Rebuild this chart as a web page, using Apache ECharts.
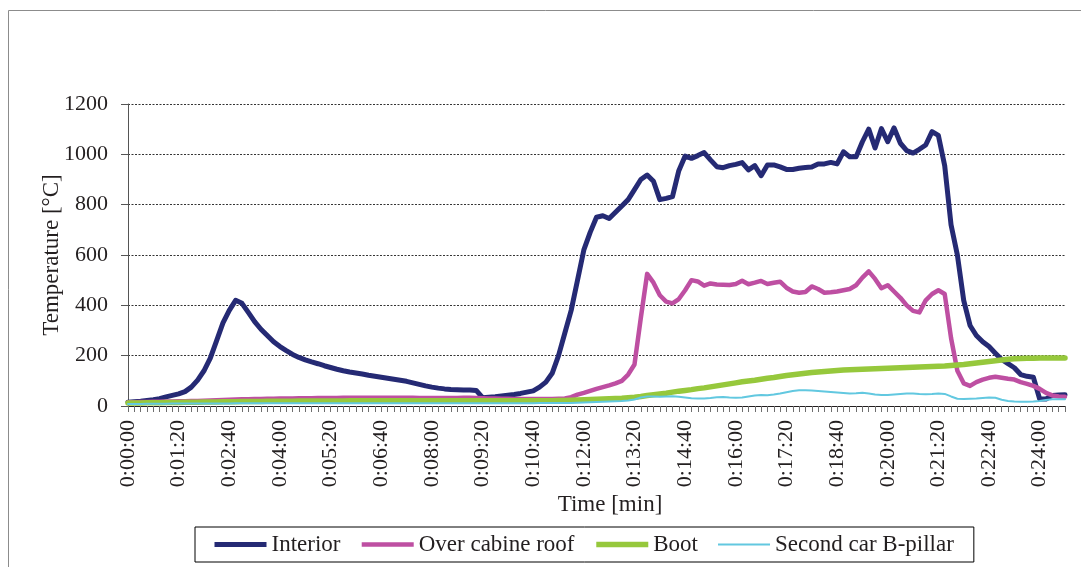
<!DOCTYPE html>
<html>
<head>
<meta charset="utf-8">
<script src="https://cdn.jsdelivr.net/npm/echarts@6/dist/echarts.min.js"></script>
<style>
  html, body { margin: 0; padding: 0; background: #ffffff; }
  #chart { width: 1081px; height: 567px; }
</style>
</head>
<body>
<div id="chart"></div>
<script>
// Sampling step of the logger: one reading every 10 s, 149 readings (0:00:00 .. 0:24:40)
const stepSeconds = 10;
const sampleCount = 149;

function hms(totalSec) {
  const h = Math.floor(totalSec / 3600);
  const m = Math.floor((totalSec % 3600) / 60);
  const s = totalSec % 60;
  return h + ':' + String(m).padStart(2, '0') + ':' + String(s).padStart(2, '0');
}
const timeLabels = Array.from({ length: sampleCount }, (_, i) => hms(i * stepSeconds));

const seriesNames = ['Interior', 'Over cabine roof', 'Boot', 'Second car B-pillar'];

// Temperatures in °C
const interior = [
  15, 17, 19, 22, 25, 29, 36, 42, 48, 57,
  75, 103, 140, 190, 260, 330, 380, 420, 408, 372,
  335, 305, 280, 255, 236, 220, 205, 193, 183, 175,
  168, 160, 153, 146, 140, 135, 131, 127, 122, 118,
  114, 110, 106, 102, 98, 92, 86, 80, 75, 71,
  68, 66, 65, 64, 64, 62, 33, 35, 37, 40,
  43, 46, 50, 55, 60, 75, 95, 130, 200, 290,
  380, 500, 620, 690, 750, 756, 745, 770, 795, 820,
  860, 900, 918, 893, 820, 825, 832, 935, 993, 984,
  995, 1007, 978, 951, 947, 955, 960, 967, 938, 955,
  915, 958, 958, 950, 940, 940, 945, 948, 950, 962,
  962, 968, 962, 1010, 990, 990, 1050, 1100, 1025, 1102,
  1050, 1105, 1044, 1015, 1005, 1020, 1037, 1090, 1075, 955,
  720, 600, 420, 320, 280, 255, 236, 210, 185, 168,
  152, 125, 118, 114, 28, 28, 42, 44, 45
];

const cabineRoof = [
  15, 15, 16, 16, 17, 17, 18, 18, 19, 19,
  20, 20, 21, 22, 23, 24, 25, 26, 27, 27,
  28, 28, 29, 29, 30, 30, 30, 31, 31, 31,
  32, 32, 32, 32, 33, 33, 33, 33, 33, 33,
  33, 33, 33, 33, 33, 33, 32, 32, 32, 32,
  32, 32, 32, 33, 33, 32, 31, 30, 30, 29,
  29, 28, 28, 28, 28, 28, 28, 28, 29, 30,
  35, 45, 52, 60, 68, 75, 82, 90, 100, 125,
  165, 350, 525, 490, 440, 415, 408, 425, 460, 500,
  495, 478, 487, 483, 482, 481, 485, 498, 484, 490,
  497, 485, 490, 494, 470, 455, 450, 453, 475, 465,
  450, 452, 455, 460, 465, 480, 510, 535, 505, 468,
  480, 455, 430, 400, 378, 372, 420, 445, 460, 445,
  270, 140, 90, 80, 95, 105, 112, 116, 112, 108,
  105, 95, 88, 80, 68, 52, 42, 38, 37
];

const boot = [
  12, 12, 12, 13, 13, 13, 14, 14, 14, 15,
  15, 15, 16, 16, 16, 17, 17, 17, 18, 18,
  18, 18, 19, 19, 19, 19, 19, 20, 20, 20,
  20, 20, 20, 20, 20, 21, 21, 21, 21, 21,
  21, 21, 21, 21, 21, 21, 21, 21, 21, 21,
  21, 21, 21, 21, 21, 21, 21, 21, 21, 21,
  21, 21, 21, 21, 21, 21, 21, 21, 22, 22,
  23, 24, 25, 26, 27, 28, 29, 30, 31, 33,
  35, 38, 42, 45, 48, 51, 55, 59, 62, 65,
  69, 72, 76, 80, 84, 88, 92, 96, 99, 102,
  106, 110, 113, 117, 121, 124, 127, 130, 133, 135,
  137, 139, 141, 143, 144, 145, 146, 147, 148, 149,
  150, 151, 152, 153, 154, 155, 156, 157, 158, 159,
  161, 163, 165, 168, 171, 174, 177, 180, 183, 186,
  188, 189, 190, 190, 191, 191, 191, 191, 191
];

const secondCarBPillar = [
  8, 8, 8, 9, 9, 9, 9, 10, 10, 10,
  10, 10, 10, 10, 10, 10, 10, 11, 11, 11,
  11, 11, 11, 11, 11, 11, 11, 11, 11, 11,
  11, 11, 11, 11, 11, 11, 11, 11, 11, 11,
  11, 11, 11, 11, 11, 11, 11, 11, 11, 11,
  11, 11, 11, 11, 11, 11, 11, 11, 11, 11,
  11, 11, 11, 11, 11, 12, 12, 12, 12, 12,
  12, 13, 14, 15, 16, 17, 18, 19, 20, 22,
  26, 34, 38, 38, 37, 38, 39, 37, 34, 31,
  30, 30, 32, 35, 36, 34, 33, 34, 38, 42,
  44, 43, 46, 50, 55, 60, 63, 63, 62, 60,
  58, 56, 54, 52, 50, 51, 53, 50, 46, 44,
  44, 46, 48, 50, 50, 48, 47, 48, 50, 48,
  38, 29, 28, 29, 30, 32, 34, 33, 25, 20,
  18, 17, 17, 18, 20, 24, 27, 27, 27
];

const yTicks = { min: 0, max: 1200, step: 200 };

const serif = '"Liberation Serif", "Times New Roman", serif';
const ink = '#231F20';

const chart = echarts.init(document.getElementById('chart'), null, { renderer: 'canvas' });

function lineSeries(name, data, color, width) {
  return {
    name: name,
    type: 'line',
    data: data,
    symbol: 'none',
    smooth: false,
    lineStyle: { color: color, width: width, cap: 'round', join: 'round' },
    itemStyle: { color: color },
    emphasis: { disabled: true }
  };
}

chart.setOption({
  animation: false,
  backgroundColor: '#ffffff',
  graphic: [{
    type: 'rect',
    silent: true,
    z: -10,
    shape: { x: 8.5, y: 10.5, width: 1200, height: 700 },
    style: { fill: 'none', stroke: '#8c8c8c', lineWidth: 1 }
  }],
  grid: { left: 128, right: 16, top: 104, bottom: 161, containLabel: false },
  legend: {
    data: seriesNames,
    left: 195,
    top: 527,
    padding: [6, 20, 6, 17],
    itemGap: 19,
    itemWidth: 52,
    itemHeight: 14,
    borderColor: '#000000',
    borderWidth: 1,
    lineStyle: { width: 'inherit', cap: 'butt' },
    itemStyle: { color: 'transparent', borderWidth: 0, opacity: 0 },
    textStyle: { fontFamily: serif, fontSize: 23, color: ink }
  },
  xAxis: {
    type: 'category',
    data: timeLabels,
    boundaryGap: false,
    axisLine: { show: true, lineStyle: { color: ink, width: 1 } },
    axisTick: { show: true, interval: 0, length: 6, inside: false, lineStyle: { color: '#6e6e6e', width: 1 } },
    axisLabel: { interval: 7, rotate: 90, margin: 14, fontFamily: serif, fontSize: 22, color: ink },
    splitLine: { show: false },
    name: 'Time [min]',
    nameLocation: 'middle',
    nameGap: 87,
    nameMoveOverlap: false,
    nameTextStyle: { fontFamily: serif, fontSize: 23, color: ink, padding: [0, 0, 0, 27] }
  },
  yAxis: {
    type: 'value',
    min: yTicks.min,
    max: yTicks.max,
    interval: yTicks.step,
    axisLine: { show: true, lineStyle: { color: '#555555', width: 1 } },
    axisTick: { show: true, length: 7, inside: false, lineStyle: { color: '#555555' } },
    axisLabel: { margin: 20, fontFamily: serif, fontSize: 22, color: ink, formatter: (v) => String(v) },
    splitLine: { show: true, lineStyle: { color: '#333333', width: 1, type: [2, 1.5] } },
    name: 'Temperature [°C]',
    nameLocation: 'middle',
    nameGap: 65,
    nameMoveOverlap: false,
    nameTextStyle: { fontFamily: serif, fontSize: 23, color: ink }
  },
  series: [
    lineSeries(seriesNames[0], interior, '#252A74', 5),
    lineSeries(seriesNames[1], cabineRoof, '#BE4FA2', 4.5),
    lineSeries(seriesNames[2], boot, '#96C83C', 5.5),
    lineSeries(seriesNames[3], secondCarBPillar, '#62C8E0', 2)
  ]
});
</script>
</body>
</html>
